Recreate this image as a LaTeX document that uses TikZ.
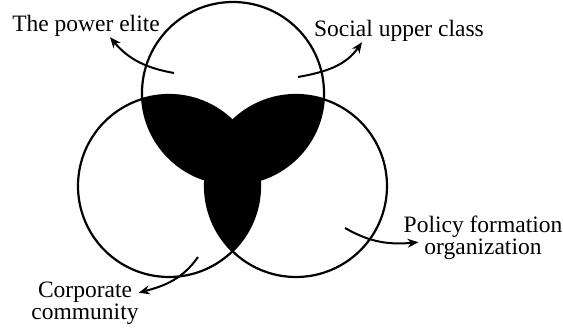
\documentclass[tikz,border=0pt]{standalone}
\usepackage{fontspec}
\setmainfont{Liberation Serif}
\usetikzlibrary{arrows.meta}

\begin{document}
\begin{tikzpicture}[x=1pt, y=1pt,
    ring/.style={line width=2.2pt},
    pointer/.style={line width=2pt, -{Stealth[length=11pt, width=9pt]}},
    groupname/.style={inner sep=0pt, font=\fontsize{23.5}{22}\selectfont, align=center}]
  \useasboundingbox (0,0) rectangle (563,331);
  % circle centres
  \coordinate (upper) at (233,238);
  \coordinate (corporate) at (169,145);
  \coordinate (policy) at (296,145);
  % black overlaps
  \begin{scope}
    \clip (upper) circle[radius=91pt];
    \fill (corporate) circle[radius=91pt];
    \fill (policy) circle[radius=91pt];
  \end{scope}
  \begin{scope}
    \clip (corporate) circle[radius=91pt];
    \fill (policy) circle[radius=91pt];
  \end{scope}
  \draw[ring] (upper) circle[radius=91pt];
  \draw[ring] (corporate) circle[radius=91pt];
  \draw[ring] (policy) circle[radius=91pt];
  % labels
  \node[groupname, anchor=base] (elitetxt) at (86,299) {The power elite};
  \node[groupname, anchor=base] (classtxt) at (399,294) {Social upper class};
  \node[groupname, anchor=base] (policytxt) at (483,76) {Policy formation\\organization};
  \node[groupname, anchor=base] (corptxt) at (85,11) {Corporate\\community};
  % arrow starts
  \coordinate (elitefrom) at (174,258);
  \coordinate (classfrom) at (298,254);
  \coordinate (policyfrom) at (345,103);
  \coordinate (corpfrom) at (198,74);
  \draw[pointer] (elitefrom) to[out=170, in=-50] ([xshift=24pt]elitetxt.south);
  \draw[pointer] (classfrom) to[out=10, in=-125] ([xshift=-37pt]classtxt.south);
  \draw[pointer] (policyfrom) to[out=-30, in=185] ([xshift=15pt, yshift=-4pt]policytxt.west);
  \draw[pointer] (corpfrom) to[out=-125, in=15] ([yshift=11pt]corptxt.east);
\end{tikzpicture}
\end{document}
